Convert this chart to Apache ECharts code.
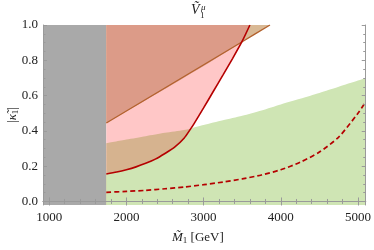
<!DOCTYPE html>
<html>
<head>
<meta charset="utf-8">
<script src="https://cdn.jsdelivr.net/npm/echarts@6/dist/echarts.min.js"></script>
<style>html,body{margin:0;padding:0;background:#fff}#c{width:374px;height:250px}</style>
</head>
<body>
<div id="c"></div>
<script>
// ---- data ----
var grayBand = [[920, 1.0], [1740, 1.0]];
// solid red boundary (region above it is pink)
var redCurve = [[1740,0.156],[1875,0.167],[2000,0.180],[2125,0.196],[2250,0.216],[2375,0.240],[2500,0.272],[2625,0.308],[2750,0.360],[2830,0.410],[2875,0.440],[3000,0.530],[3125,0.623],[3250,0.716],[3375,0.810],[3495,0.904],[3600,1.0]];
// brown boundary (region above it is brown)
var brownLine = [[1740,0.445],[3495,0.904],[3860,1.0]];
// green boundary (region below it is green)
var greenEdge = [[1740,0.330],[2000,0.351],[2250,0.370],[2500,0.389],[2750,0.405],[2830,0.410],[3000,0.433],[3250,0.460],[3500,0.486],[3750,0.516],[4000,0.550],[4250,0.582],[4500,0.615],[4750,0.650],[5000,0.685],[5100,0.700]];
// dashed red curve
var dashedCurve = [[1740,0.052],[2000,0.057],[2250,0.063],[2500,0.072],[2750,0.082],[3000,0.095],[3250,0.110],[3500,0.128],[3750,0.150],[4000,0.180],[4250,0.222],[4500,0.280],[4750,0.365],[5000,0.500],[5100,0.565]];
var xMajor = [1000, 2000, 3000, 4000, 5000];
var xMinor = [1200,1400,1600,1800,2200,2400,2600,2800,3200,3400,3600,3800,4200,4400,4600,4800];
var yMajor = [0.0, 0.2, 0.4, 0.6, 0.8, 1.0];
var yMinor = [0.05,0.1,0.15,0.25,0.3,0.35,0.45,0.5,0.55,0.65,0.7,0.75,0.85,0.9,0.95];
var redGreenCross = 2830, redBrownCross = 3495;

// composite regions built from the arrays above
var tanData = greenEdge.filter(function(p){return p[0] <= redGreenCross;});
var greenData = redCurve.filter(function(p){return p[0] <= redGreenCross;})
  .concat(greenEdge.filter(function(p){return p[0] > redGreenCross;}));
var salmonData = brownLine.filter(function(p){return p[0] <= redBrownCross;})
  .concat(redCurve.filter(function(p){return p[0] > redBrownCross;}));

var FONT = 'Liberation Serif';
var FRAME = '#9a9a9a';
var SM = 0.25;
function fill(data, color, origin) {
  return {type:'line', data:data, showSymbol:false, silent:true, smooth:SM,
    lineStyle:{width:0, opacity:0}, areaStyle:{color:color, opacity:1, origin:origin}, z:2};
}
function stroke(data, color, width, type) {
  return {type:'line', data:data, showSymbol:false, silent:true, smooth:SM,
    lineStyle:{width:width, color:color, type:type || 'solid'}, z:5};
}
function xAx(pos, ticks, len, labels, line) {
  return {type:'value', min:920, max:5100, position:pos, z:10,
    axisLine:{show:line, lineStyle:{color:FRAME, width:1}},
    axisTick:{show:true, inside:true, length:len, customValues:ticks, lineStyle:{color:FRAME}},
    axisLabel:labels ? {show:true, customValues:ticks, fontFamily:FONT, fontSize:13, color:'#222', margin:6,
      formatter:function(v){return String(Math.round(v));}} : {show:false},
    splitLine:{show:false}};
}
function yAx(pos, ticks, len, labels, line) {
  return {type:'value', min:-0.02, max:1.0, position:pos, z:10,
    axisLine:{show:line, lineStyle:{color:FRAME, width:1}},
    axisTick:{show:true, inside:true, length:len, customValues:ticks, lineStyle:{color:FRAME}},
    axisLabel:labels ? {show:true, customValues:ticks, fontFamily:FONT, fontSize:13, color:'#222', margin:5,
      formatter:function(v){return v.toFixed(1);}} : {show:false},
    splitLine:{show:false}};
}

var chart = echarts.init(document.getElementById('c'), null, {renderer:'canvas'});
chart.setOption({
  animation:false,
  grid:{left:43, right:8, top:25, bottom:45},
  xAxis:[xAx('bottom', xMajor, 4, true, true), xAx('bottom', xMinor, 2.5, false, false),
         xAx('top', xMajor, 4, false, true), xAx('top', xMinor, 2.5, false, false)],
  yAxis:[yAx('left', yMajor, 4, true, true), yAx('left', yMinor, 2.5, false, false),
         yAx('right', yMajor, 4, false, true), yAx('right', yMinor, 2.5, false, false)],
  series:[
    fill(grayBand, '#a9a9a9', 'start'),
    fill(redCurve, '#ffc7c7', 'end'),
    fill(brownLine, '#d9b995', 'end'),
    fill(salmonData, '#dc9b88', 'end'),
    fill(tanData, '#d6b38f', 'start'),
    fill(greenData, '#cfe5b4', 'start'),
    stroke(brownLine, '#b3622e', 1.3),
    stroke(redCurve, '#b50000', 1.6),
    stroke(dashedCurve, '#b50000', 1.7, [5, 3])
  ],
  graphic:[
    {type:'text', left:191, top:3, style:{text:'Ṽ', font:'italic 14px "Liberation Serif"', fill:'#222'}},
    {type:'text', left:201, top:3, style:{text:'μ', font:'italic 9px "Liberation Serif"', fill:'#222'}},
    {type:'text', left:200, top:11, style:{text:'1', font:'9px "Liberation Serif"', fill:'#222'}},
    {type:'text', x:13, y:115, rotation:Math.PI/2,
      style:{text:'{n||}{k|κ̃}{s|1}{n||}', align:'center', verticalAlign:'middle',
        rich:{n:{font:'13px "Liberation Serif"', fill:'#222'},
              k:{font:'italic 13px "Liberation Serif"', fill:'#222'},
              s:{font:'9px "Liberation Serif"', fill:'#222', padding:[5,0,0,0]}}}},
    {type:'text', left:172, top:231, style:{rich:{m:{font:'italic 13px "Liberation Serif"', fill:'#222'}, s:{font:'9px "Liberation Serif"', fill:'#222', padding:[6,0,0,0]}, n:{font:'13px "Liberation Serif"', fill:'#222'}}, text:'{m|M̃}{s|1}{n| [GeV]}'}}
  ]
});
</script>
</body>
</html>
